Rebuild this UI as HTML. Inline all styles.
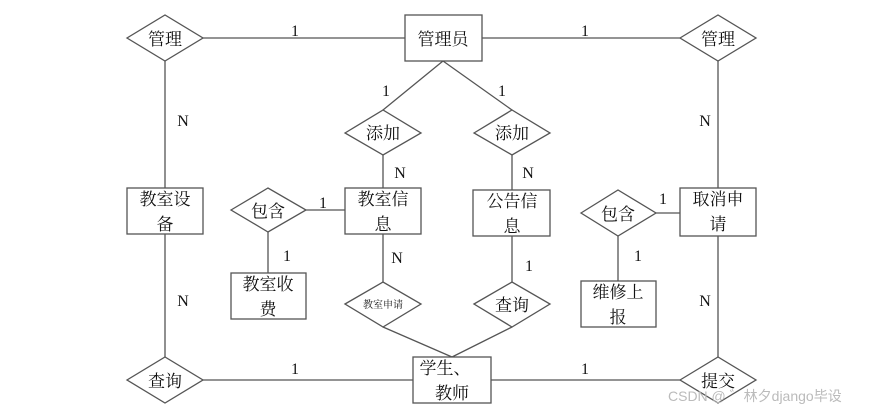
<!DOCTYPE html>
<html><head><meta charset="utf-8"><style>
body{margin:0;background:#fff;}
svg text{font-family:"Liberation Serif","Noto Serif CJK SC",serif;fill:#111;}
</style></head><body>
<svg width="869" height="410" viewBox="0 0 869 410" xmlns="http://www.w3.org/2000/svg">
<g stroke="#555" stroke-width="1.3" fill="none">
<line x1="203" y1="38" x2="405" y2="38"/>
<line x1="482" y1="38" x2="680" y2="38"/>
<line x1="165" y1="61" x2="165" y2="188"/>
<line x1="718" y1="61" x2="718" y2="188"/>
<line x1="443" y1="61" x2="383" y2="110"/>
<line x1="443" y1="61" x2="512" y2="110"/>
<line x1="383" y1="155" x2="383" y2="188"/>
<line x1="512" y1="155" x2="512" y2="190"/>
<line x1="306" y1="210" x2="345" y2="210"/>
<line x1="268" y1="232" x2="268" y2="273"/>
<line x1="656" y1="213" x2="680" y2="213"/>
<line x1="618" y1="236" x2="618" y2="281"/>
<line x1="165" y1="234" x2="165" y2="357"/>
<line x1="718" y1="236" x2="718" y2="357"/>
<line x1="383" y1="234" x2="383" y2="282"/>
<line x1="512" y1="236" x2="512" y2="282"/>
<line x1="383" y1="327" x2="452" y2="357"/>
<line x1="512" y1="327" x2="452" y2="357"/>
<line x1="203" y1="380" x2="413" y2="380"/>
<line x1="491" y1="380" x2="680" y2="380"/>
</g>
<g stroke="#555" stroke-width="1.3" fill="#fff">
<rect x="405" y="15" width="77" height="46"/>
<rect x="127" y="188" width="76" height="46"/>
<rect x="345" y="188" width="76" height="46"/>
<rect x="473" y="190" width="77" height="46"/>
<rect x="680" y="188" width="76" height="48"/>
<rect x="231" y="273" width="75" height="46"/>
<rect x="581" y="281" width="75" height="46"/>
<rect x="413" y="357" width="78" height="46"/>
<polygon points="127,38 165,15 203,38 165,61"/>
<polygon points="680,38 718,15 756,38 718,61"/>
<polygon points="345,133 383,110 421,133 383,155"/>
<polygon points="474,133 512,110 550,133 512,155"/>
<polygon points="231,210 268,188 306,210 268,232"/>
<polygon points="581,213 618,190 656,213 618,236"/>
<polygon points="345,304 383,282 421,304 383,327"/>
<polygon points="474,304 512,282 550,304 512,327"/>
<polygon points="127,380 165,357 203,380 165,403"/>
<polygon points="680,380 718,357 756,380 718,403"/>
</g>
<g font-size="17" text-anchor="middle">
<text x="443" y="45">管理员</text>
<text x="165" y="45">管理</text>
<text x="718" y="45">管理</text>
<text x="383" y="139">添加</text>
<text x="512" y="139">添加</text>
<text x="268" y="217">包含</text>
<text x="618" y="220">包含</text>
<text x="165" y="205">教室设</text><text x="165" y="230">备</text>
<text x="383" y="205">教室信</text><text x="383" y="230">息</text>
<text x="512" y="207">公告信</text><text x="512" y="232">息</text>
<text x="718" y="205">取消申</text><text x="718" y="230">请</text>
<text x="268" y="290">教室收</text><text x="268" y="315">费</text>
<text x="618" y="298">维修上</text><text x="618" y="323">报</text>
<text x="512" y="311">查询</text>
<text x="165" y="387">查询</text>
<text x="718" y="387">提交</text>
<text x="445" y="374">学生、</text><text x="452" y="399">教师</text>
<text x="383" y="308" font-size="10" font-family="Noto Sans CJK SC,sans-serif">教室申请</text>
</g>
<g font-size="16" text-anchor="middle" style="fill:#3a1a10">
<text x="295" y="36">1</text><text x="585" y="36">1</text>
<text x="386" y="96">1</text><text x="502" y="96">1</text>
<text x="183" y="126">N</text><text x="705" y="126">N</text>
<text x="400" y="178">N</text><text x="528" y="178">N</text>
<text x="323" y="208">1</text><text x="663" y="204">1</text>
<text x="287" y="261">1</text><text x="397" y="263">N</text>
<text x="529" y="271">1</text><text x="638" y="261">1</text>
<text x="183" y="306">N</text><text x="705" y="306">N</text>
<text x="295" y="374">1</text><text x="585" y="374">1</text>
</g>
<text x="668" y="401" font-size="14" style="fill:#bbb;font-family:'Liberation Sans','Noto Sans CJK SC',sans-serif">CSDN @ ゛林夕django毕设</text>
</svg>
</body></html>
